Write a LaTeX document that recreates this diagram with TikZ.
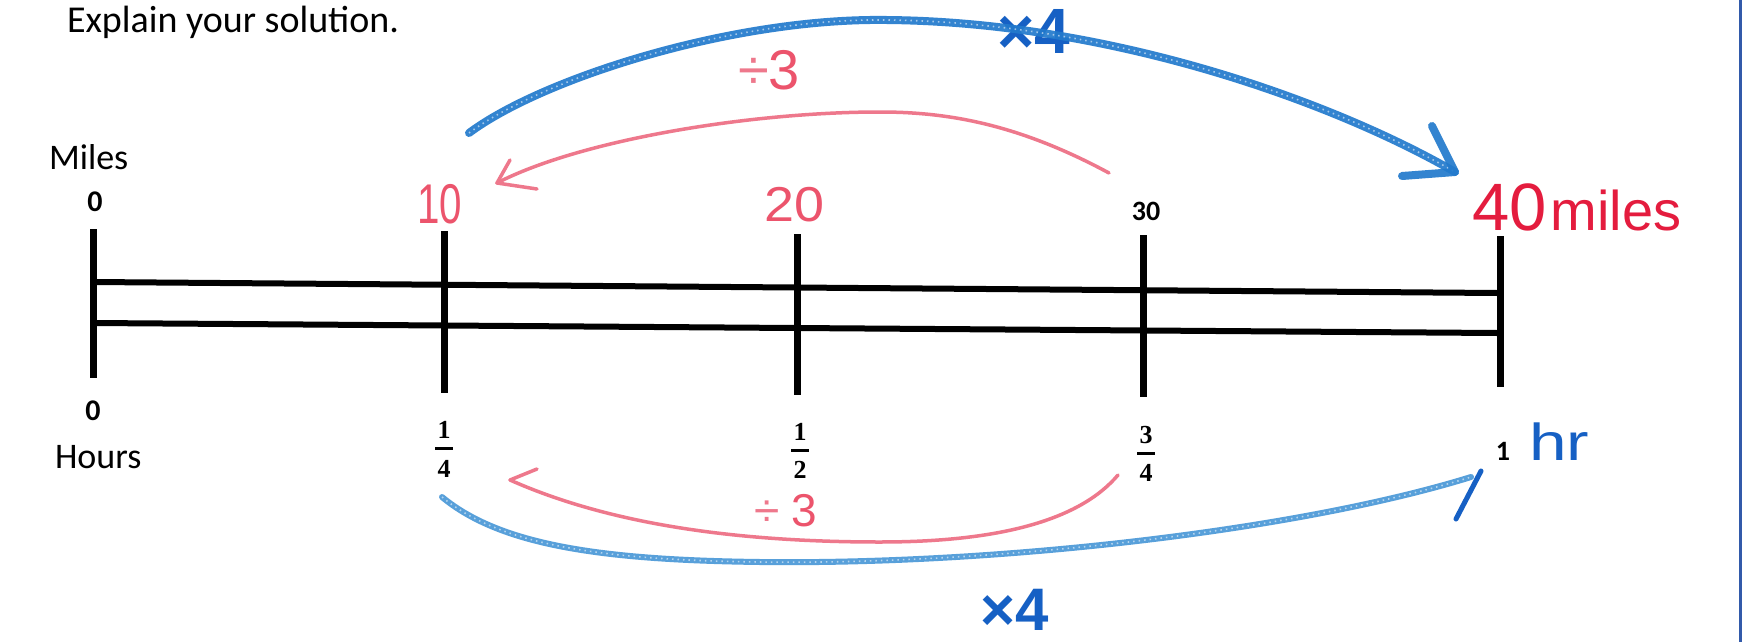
\documentclass[tikz,border=0pt]{standalone}
\usepackage{fontspec}
\setmainfont{Carlito}
\newfontfamily\hand{Liberation Sans}
\newfontfamily\fracfont{Liberation Serif}
\definecolor{inkred}{RGB}{228,28,62}
\definecolor{pinkred}{RGB}{236,84,108}
\definecolor{arcred}{RGB}{238,120,140}
\definecolor{inkblue}{RGB}{22,96,196}
\definecolor{arcblue}{RGB}{34,122,204}
\definecolor{arcblue2}{RGB}{70,150,215}
\definecolor{edgeblue}{RGB}{50,90,170}
\newcommand{\fsz}[1]{\fontsize{#1}{#1}\selectfont}
\begin{document}
\begin{tikzpicture}[x=1pt,y=-1pt,
  lbl/.style={inner sep=0pt,outer sep=0pt},
  tickln/.style={line width=7pt,black},
  rail/.style={line width=6pt,black},
  fracdig/.style={lbl,font=\fracfont\bfseries\fsz{26}},
  fracbar/.style={line width=3pt,black},
  bluearc/.style={draw=arcblue,line width=8pt,line cap=round,line join=round,opacity=.92},
  bluearc2/.style={draw=arcblue2,line width=6pt,line cap=round,line join=round,opacity=.9},
  speckle/.style={draw=white,line width=1.6pt,dash pattern=on 1.5pt off 4pt,opacity=.55},
  redarc/.style={draw=arcred,line width=3.5pt,line cap=round,line join=round},
  hw/.style={lbl,font=\hand}]
\useasboundingbox (0,0) rectangle (1742,642);
\fill[white] (0,0) rectangle (1742,642);
\fill[edgeblue] (1739,0) rectangle (1742,642);

% printed text
\node[lbl,anchor=base west,font=\fsz{38}] (explain) at (67,33) {Explain your solution.};
\node[lbl,anchor=base west,font=\fsz{36}] (miles) at (49,169) {Miles};
\node[lbl,anchor=base west,font=\fsz{36}] (hours) at (55,468) {Hours};
\node[lbl,font=\fsz{30}\bfseries] (m0) at (95,202) {0};
\node[lbl,font=\fsz{28}\bfseries] (m30) at (1146,211) {30};
\node[lbl,font=\fsz{30}\bfseries] (h0) at (93,411) {0};
\node[lbl,font=\fsz{28}\bfseries] (h1) at (1503,451) {1};

% fractions
\node[fracdig] (q1n) at (444,430) {1};
\node[fracdig] (q1d) at (444,469) {4};
\coordinate (q1a) at (435,448); \coordinate (q1b) at (453,448);
\draw[fracbar] (q1a) -- (q1b);
\node[fracdig] (q2n) at (800,432) {1};
\node[fracdig] (q2d) at (800,470) {2};
\coordinate (q2a) at (791,450); \coordinate (q2b) at (809,450);
\draw[fracbar] (q2a) -- (q2b);
\node[fracdig] (q3n) at (1146,435) {3};
\node[fracdig] (q3d) at (1146,473) {4};
\coordinate (q3a) at (1137,453); \coordinate (q3b) at (1155,453);
\draw[fracbar] (q3a) -- (q3b);

% number line
\coordinate (t0a) at (93,229);   \coordinate (t0b) at (93,378);
\coordinate (t1a) at (444,231);  \coordinate (t1b) at (444,393);
\coordinate (t2a) at (797,234);  \coordinate (t2b) at (797,395);
\coordinate (t3a) at (1143,235); \coordinate (t3b) at (1143,397);
\coordinate (t4a) at (1500,236); \coordinate (t4b) at (1500,387);
\coordinate (ua) at (93,282); \coordinate (ub) at (1497,293);
\coordinate (la) at (93,323); \coordinate (lb) at (1497,333);
\draw[rail] (ua) -- (ub);
\draw[rail] (la) -- (lb);
\foreach \t in {0,1,2,3,4} \draw[tickln] (t\t a) -- (t\t b);

% handwritten labels
\node[hw,text=pinkred,font=\hand\fsz{56}] (m10) at (440,204) {\scalebox{0.72}[1]{10}};
\node[hw,text=pinkred,font=\hand\fsz{49}] (m20) at (794,205) {\scalebox{1.1}[1]{20}};
\node[hw,text=inkred,anchor=base west] (m40) at (1472,230) {{\fsz{67}40}\hspace{4pt}{\fsz{56}miles}};
\node[hw,text=inkblue,anchor=base west,font=\hand\fsz{52}] (hr) at (1529,460) {\scalebox{1.3}[1]{hr}};
\node[hw,text=pinkred,font=\hand\fsz{56}] (d3t) at (769,70) {{\color{arcred}÷}3};
\node[hw,text=pinkred,font=\hand\fsz{46}] (d3b) at (786,511) {{\color{arcred}÷}\hspace{12pt}3};
\node[hw,text=inkblue,font=\hand\bfseries\fsz{64}] (x4t) at (1034,31) {×4};
\node[hw,text=inkblue,font=\hand\bfseries\fsz{60}] (x4b) at (1015,610) {×4};

% top blue arc (x4)
\coordinate (tbS) at (469,133); \coordinate (tbE) at (1455,172);
\coordinate (tbH1) at (1432,126); \coordinate (tbH2) at (1402,176);
\draw[bluearc] (tbS) .. controls (540,80) and (720,22) .. (870,20)
   .. controls (1100,18) and (1330,100) .. (tbE);
\draw[speckle] (tbS) .. controls (540,80) and (720,22) .. (870,20)
   .. controls (1100,18) and (1330,100) .. (tbE);
\draw[bluearc] (tbH1) -- (tbE) -- (tbH2);

% top red arc (÷3)
\coordinate (rtS) at (1109,173); \coordinate (rtE) at (497,183);
\coordinate (rtH1) at (510,160); \coordinate (rtH2) at (537,189);
\draw[redarc] (rtS) .. controls (1020,125) and (950,112) .. (880,112)
   .. controls (750,112) and (580,140) .. (rtE);
\draw[redarc] (rtH1) -- (rtE) -- (rtH2);

% bottom red arc (÷3)
\coordinate (rbS) at (1118,475); \coordinate (rbE) at (510,480);
\coordinate (rbH) at (537,469);
\draw[redarc] (rbS) .. controls (1080,520) and (1000,542) .. (880,542)
   .. controls (720,542) and (600,520) .. (rbE);
\draw[redarc] (rbE) -- (rbH);

% bottom blue arc (x4)
\coordinate (bbS) at (442,497); \coordinate (bbE) at (1471,477);
\coordinate (bbH1) at (1481,471); \coordinate (bbH2) at (1456,519);
\draw[bluearc2] (bbS) .. controls (500,545) and (600,560) .. (760,562)
   .. controls (1000,565) and (1300,530) .. (bbE);
\draw[speckle] (bbS) .. controls (500,545) and (600,560) .. (760,562)
   .. controls (1000,565) and (1300,530) .. (bbE);
\draw[draw=inkblue,line width=5pt,line cap=round] (bbH1) -- (bbH2);
\end{tikzpicture}
\end{document}
